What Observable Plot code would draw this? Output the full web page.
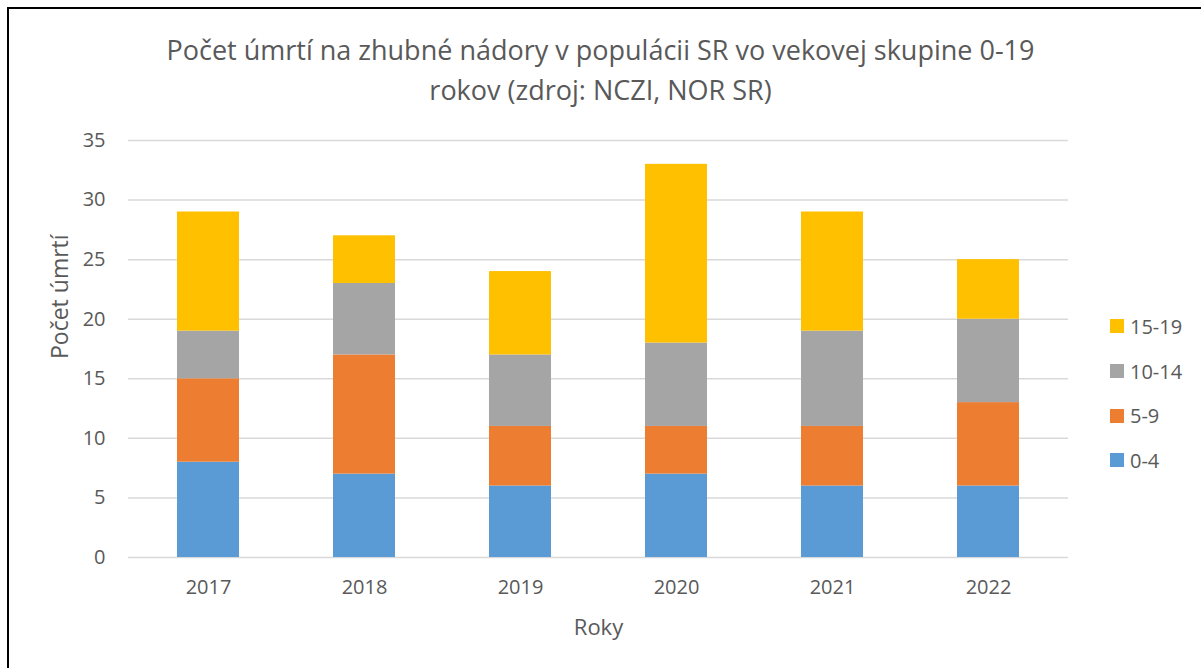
<!DOCTYPE html>
<html>
<head>
<meta charset="utf-8">
<script src="https://cdn.jsdelivr.net/npm/d3@7"></script>
<script src="https://cdn.jsdelivr.net/npm/@observablehq/plot@0.6"></script>
<style>
  html, body { margin: 0; padding: 0; background: #fff; }
  #wrap { position: relative; width: 1201px; height: 668px; overflow: hidden; font-family: "Open Sans", sans-serif; color: #595959; }
  #frame { position: absolute; left: 7px; top: 7px; width: 1300px; height: 800px; border-left: 2px solid #000; border-top: 2px solid #000; }
  #title { position: absolute; left: 0; top: 0; width: 1201px; height: 120px; text-align: center; font-size: 27px; line-height: 40px; padding-top: 30px; box-sizing: border-box; }
  #chart { position: absolute; left: 0; top: 120px; }
  #legend { position: absolute; left: 1110px; top: 304px; font-size: 20px; }
  .li { display: flex; align-items: center; height: 44.7px; }
  .sw { width: 14px; height: 14px; margin-right: 6px; }
</style>
</head>
<body>
<div id="wrap">
  <div id="frame"></div>
  <div id="title">Počet úmrtí na zhubné nádory v populácii SR vo vekovej skupine 0-19<br>rokov (zdroj: NCZI, NOR SR)</div>
  <div id="chart"></div>
  <div id="legend"></div>
</div>
<script>
const years = ["2017", "2018", "2019", "2020", "2021", "2022"];
const groups = ["0-4", "5-9", "10-14", "15-19"];
const v0_4 = [8, 7, 6, 7, 6, 6];
const v5_9 = [7, 10, 5, 4, 5, 7];
const v10_14 = [4, 6, 6, 7, 8, 7];
const v15_19 = [10, 4, 7, 15, 10, 5];
const colors = ["#5B9BD5", "#ED7D31", "#A5A5A5", "#FFC000"];
const yTicks = [0, 5, 10, 15, 20, 25, 30, 35];

const seriesVals = [v0_4, v5_9, v10_14, v15_19];
const rows = [];
groups.forEach((g, gi) => years.forEach((y, yi) => rows.push({year: y, group: g, value: seriesVals[gi][yi]})));

const chart = Plot.plot({
  width: 1201,
  height: 548,
  marginLeft: 128,
  marginRight: 133,
  marginTop: 20,
  marginBottom: 111,
  style: {fontFamily: "Open Sans, sans-serif", fontSize: "20px", color: "#595959", background: "transparent"},
  x: {domain: years, paddingInner: 0.6, paddingOuter: 0.3, label: null},
  y: {domain: [0, 35], ticks: yTicks, label: null},
  color: {domain: groups, range: colors},
  marks: [
    Plot.gridY(yTicks, {stroke: "#D9D9D9", strokeOpacity: 1, strokeWidth: 1.5}),
    Plot.barY(rows, Plot.stackY({x: "year", y: "value", fill: "group", order: groups})),
    Plot.axisX({tickSize: 0, tickPadding: 22, fontSize: 20, label: null}),
    Plot.axisY(yTicks, {tickSize: 0, tickPadding: 23, fontSize: 20, label: null}),
    Plot.text(["Roky"], {frameAnchor: "bottom", dy: 77, fontSize: 22}),
    Plot.text(["Počet úmrtí"], {frameAnchor: "left", dx: -68, dy: 10, rotate: -90, fontSize: 23})
  ]
});
chart.querySelectorAll("text").forEach(t => t.setAttribute("fill", "#595959"));
document.getElementById("chart").appendChild(chart);

const legend = document.getElementById("legend");
[...groups].reverse().forEach(g => {
  const d = document.createElement("div");
  d.className = "li";
  d.innerHTML = `<span class="sw" style="background:${colors[groups.indexOf(g)]}"></span><span>${g}</span>`;
  legend.appendChild(d);
});
</script>
</body>
</html>
